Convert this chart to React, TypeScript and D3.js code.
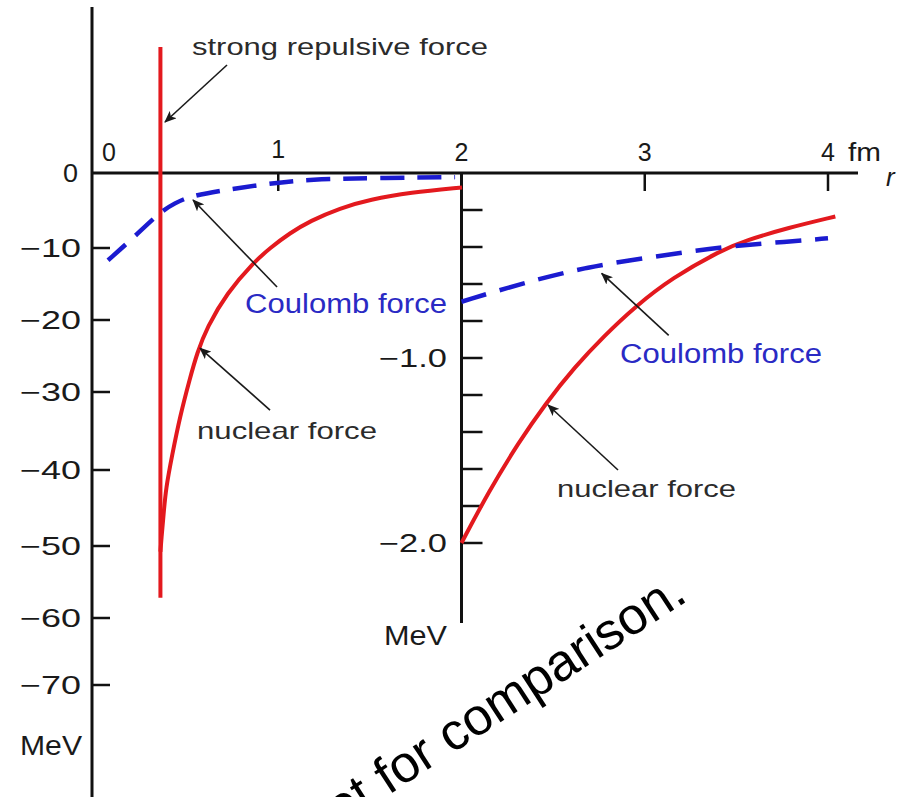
import React from 'react';
import * as d3 from 'd3';

// ---- data ----
const xTickValues = [0, 1, 2, 3, 4];
const yMainTickValues = [-10, -20, -30, -40, -50, -60, -70];
const yMainLabelValues = [0, -10, -20, -30, -40, -50, -60, -70];
const yInsetTickValues = [-0.2, -0.4, -0.6, -0.8, -1.0, -1.2, -1.4, -1.6, -1.8, -2.0];
const yInsetLabelValues = [-1.0, -2.0];

// repulsive core (fm, MeV)
const coreR = [0.357, 0.357];
const coreV = [16.8, -57.2];

// nuclear potential, main panel (MeV)
const nuclearMainR = [0.357, 0.363, 0.374, 0.387, 0.42, 0.464, 0.518, 0.557, 0.611, 0.72, 0.862, 0.955, 1.064, 1.173, 1.337, 1.501, 1.719, 2.003];
const nuclearMainV = [-50.8, -48.9, -45.9, -42.4, -38.2, -33.1, -28.1, -24.6, -21.0, -16.25, -12.1, -10.0, -8.0, -6.4, -4.67, -3.53, -2.6, -1.93];

// Coulomb potential, main panel (MeV)
const coulombMainR = [0.071, 0.207, 0.355, 0.437, 0.518, 0.7, 0.917, 1.173, 1.555, 1.965];
const coulombMainV = [-11.7, -8.7, -5.2, -4.0, -3.1, -2.3, -1.5, -0.8, -0.67, -0.55];

// inset (MeV, magnified)
const nuclearInsetR = [2.0, 2.146, 2.31, 2.456, 2.619, 2.783, 2.947, 3.147, 3.42, 3.547, 3.783, 4.04];
const nuclearInsetV = [-2.0, -1.726, -1.459, -1.25, -1.047, -0.876, -0.723, -0.568, -0.416, -0.366, -0.296, -0.235];
const coulombInsetR = [2.0, 2.33, 2.69, 3.056, 3.42, 3.783, 4.0];
const coulombInsetV = [-0.696, -0.596, -0.506, -0.452, -0.398, -0.371, -0.353];

const RED = '#e3191e';
const BLUE = '#1b1bd0';
const BLUE_TEXT = '#2a2ac4';
const GRAY_TEXT = '#2b2b2b';
const FONT = '"Liberation Sans", Arial, Helvetica, sans-serif';

const fmtMinus = (v: number, digits = 0) =>
  v === 0 ? '0' : (v < 0 ? '\u2212' : '') + Math.abs(v).toFixed(digits);

export default function App() {
  const W = 899;
  const H = 797;

  const x = d3.scaleLinear().domain([0, 4]).range([95, 828]);
  const yMain = d3
    .scaleLinear()
    .domain([0, -10, -20, -30, -40, -50, -60, -70])
    .range([173, 248, 320, 392, 470, 546, 618, 685]);
  const yInset = d3.scaleLinear().domain([0, -2]).range([173, 543]);

  const mainLine = d3
    .line<[number, number]>()
    .x((d) => x(d[0]))
    .y((d) => yMain(d[1]))
    .curve(d3.curveBasis);
  const insetLine = d3
    .line<[number, number]>()
    .x((d) => x(d[0]))
    .y((d) => yInset(d[1]))
    .curve(d3.curveBasis);
  const straight = d3
    .line<[number, number]>()
    .x((d) => x(d[0]))
    .y((d) => yMain(d[1]));

  const zip = (a: number[], b: number[]) => a.map((v, i) => [v, b[i]] as [number, number]);

  const axisX0 = x(0) - 3; // vertical axis sits slightly left of r = 0
  const axisY0 = yMain(0);
  const insetX = x(2);

  // annotation arrows: tip in data space, tail as pixel offset
  const arrows = [
    { tx: x(0.382), ty: yMain(6.8), dx: 62, dy: -57 },
    { tx: x(0.535), ty: yMain(-3.6), dx: 84, dy: 87 },
    { tx: x(0.573), ty: yMain(-23.9), dx: 70, dy: 62 },
    { tx: x(2.765), ty: yInset(-0.543), dx: 67, dy: 62 },
    { tx: x(2.472), ty: yInset(-1.254), dx: 70, dy: 65 },
  ];

  return (
    <svg
      width={W}
      height={H}
      viewBox={`0 0 ${W} ${H}`}
      style={{ position: 'absolute', left: 0, top: 0, background: '#fff' }}
      fontFamily={FONT}
    >
      <defs>
        <marker
          id="arrowHead"
          viewBox="0 0 12 10"
          refX="11"
          refY="5"
          markerWidth="12"
          markerHeight="10"
          markerUnits="userSpaceOnUse"
          orient="auto"
        >
          <path d="M0,0 L12,5 L0,10 L3,5 Z" fill="#1a1a1a" />
        </marker>
      </defs>

      {/* main axes */}
      <line x1={axisX0} y1={7} x2={axisX0} y2={H} stroke="#111" strokeWidth={3} />
      <line x1={axisX0} y1={axisY0} x2={858} y2={axisY0} stroke="#111" strokeWidth={3} />

      {/* x ticks (downward) */}
      {xTickValues
        .filter((t) => t !== 0 && t !== 2)
        .map((t) => (
          <line key={'xt' + t} x1={x(t)} y1={axisY0} x2={x(t)} y2={axisY0 + 18} stroke="#111" strokeWidth={2.5} />
        ))}
      {/* x tick labels */}
      {xTickValues.map((t) => (
        <text
          key={'xl' + t}
          x={t === 0 ? x(t) + 14 : x(t)}
          y={t === 1 ? 158 : 161}
          fontSize={25}
          textAnchor="middle"
          fill="#1a1a1a"
        >
          {t}
        </text>
      ))}
      <text x={x(4) + 20} y={161} fontSize={25} fill="#1a1a1a" textLength={33} lengthAdjust="spacingAndGlyphs">
        fm
      </text>
      <text x={886} y={186} fontSize={26} fontStyle="italic" fill="#1a1a1a">
        r
      </text>

      {/* main y ticks */}
      {yMainTickValues.map((v) => (
        <line key={'yt' + v} x1={axisX0} y1={yMain(v)} x2={axisX0 + 18} y2={yMain(v)} stroke="#111" strokeWidth={2.5} />
      ))}
      {yMainLabelValues.map((v) => (
        <text
          key={'yl' + v}
          x={v === 0 ? 78 : 81}
          y={yMain(v) + 9}
          fontSize={25}
          textAnchor="end"
          fill="#1a1a1a"
          textLength={v === 0 ? 15 : 61}
          lengthAdjust="spacingAndGlyphs"
        >
          {fmtMinus(v)}
        </text>
      ))}
      <text x={20} y={755} fontSize={27} fill="#1a1a1a" textLength={62} lengthAdjust="spacingAndGlyphs">
        MeV
      </text>

      {/* inset axis */}
      <line x1={insetX} y1={axisY0} x2={insetX} y2={623} stroke="#111" strokeWidth={3} />
      {yInsetTickValues.map((v) => (
        <line
          key={'it' + v}
          x1={insetX}
          y1={yInset(v)}
          x2={insetX + 21}
          y2={yInset(v)}
          stroke="#111"
          strokeWidth={2.5}
        />
      ))}
      {yInsetLabelValues.map((v) => (
        <text
          key={'il' + v}
          x={447}
          y={yInset(v) + 9}
          fontSize={25}
          textAnchor="end"
          fill="#1a1a1a"
          textLength={68}
          lengthAdjust="spacingAndGlyphs"
        >
          {fmtMinus(v, 1)}
        </text>
      ))}
      <text x={384} y={645} fontSize={27} fill="#1a1a1a" textLength={63} lengthAdjust="spacingAndGlyphs">
        MeV
      </text>

      {/* curves: main */}
      <path d={straight(zip(coreR, coreV)) || ''} fill="none" stroke={RED} strokeWidth={4} />
      <path d={mainLine(zip(nuclearMainR, nuclearMainV)) || ''} fill="none" stroke={RED} strokeWidth={4} />
      <path
        d={mainLine(zip(coulombMainR, coulombMainV)) || ''}
        fill="none"
        stroke={BLUE}
        strokeWidth={4.5}
        strokeDasharray="24 13"
      />

      {/* curves: inset */}
      <path d={insetLine(zip(nuclearInsetR, nuclearInsetV)) || ''} fill="none" stroke={RED} strokeWidth={4} />
      <path
        d={insetLine(zip(coulombInsetR, coulombInsetV)) || ''}
        fill="none"
        stroke={BLUE}
        strokeWidth={4.5}
        strokeDasharray="26 14"
      />

      {/* annotation arrows */}
      {arrows.map((a, i) => (
        <line
          key={'ar' + i}
          x1={a.tx + a.dx}
          y1={a.ty + a.dy}
          x2={a.tx}
          y2={a.ty}
          stroke="#1a1a1a"
          strokeWidth={1.6}
          markerEnd="url(#arrowHead)"
        />
      ))}

      {/* annotation labels */}
      <text x={192} y={55} fontSize={24} fill={GRAY_TEXT} textLength={296} lengthAdjust="spacingAndGlyphs">
        strong repulsive force
      </text>
      <text x={245} y={313} fontSize={27} fill={BLUE_TEXT} textLength={202} lengthAdjust="spacingAndGlyphs">
        Coulomb force
      </text>
      <text x={197} y={439} fontSize={24} fill={GRAY_TEXT} textLength={180} lengthAdjust="spacingAndGlyphs">
        nuclear force
      </text>
      <text x={620} y={363} fontSize={27} fill={BLUE_TEXT} textLength={202} lengthAdjust="spacingAndGlyphs">
        Coulomb force
      </text>
      <text x={557} y={497} fontSize={24} fill={GRAY_TEXT} textLength={179} lengthAdjust="spacingAndGlyphs">
        nuclear force
      </text>

      {/* rotated overlay note */}
      <text
        x={689}
        y={600}
        fontSize={52}
        textAnchor="end"
        fill="#000"
        fontFamily='"Liberation Sans", Arial, sans-serif'
        transform="rotate(-33 689 600)"
      >
        Shown in inset for comparison.
      </text>
    </svg>
  );
}
